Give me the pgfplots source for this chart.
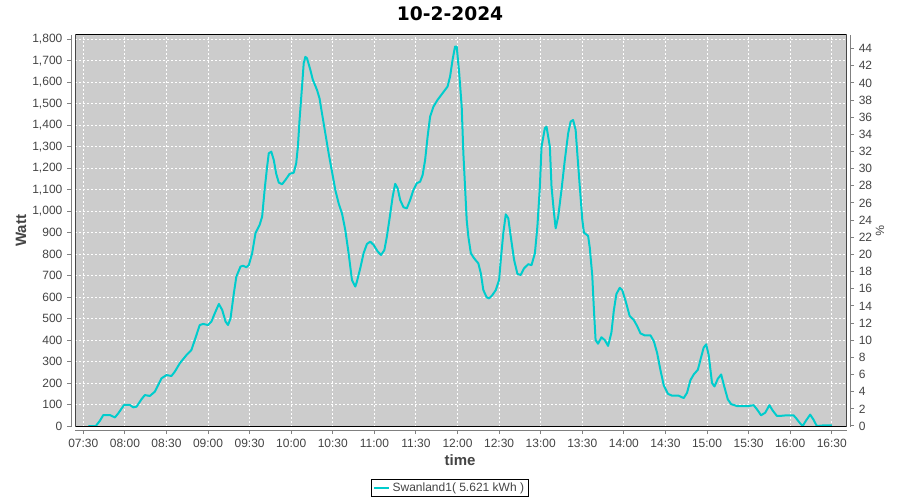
\documentclass[border=0pt]{standalone}
\usepackage{pgfplots}
\pgfplotsset{compat=1.18}
\usepackage{fontspec}
\setmainfont{Liberation Sans}
\newfontfamily\titlefont{DejaVu Sans}

\definecolor{plotbg}{RGB}{204,204,204}
\definecolor{swan}{RGB}{0,204,204}
\definecolor{axgray}{RGB}{128,128,128}
\definecolor{lblgray}{RGB}{68,68,68}

% power in W against time of day (decimal hours)
\pgfplotstableread{
h W
7.56 0
7.65 0
7.70 25
7.74 51
7.82 51
7.88 40
7.92 59
7.99 98
8.06 98
8.10 87
8.14 90
8.20 125
8.24 144
8.30 140
8.36 160
8.44 222
8.50 237
8.56 233
8.60 253
8.66 292
8.74 330
8.80 354
8.84 400
8.90 470
8.94 475
9.00 470
9.04 486
9.08 524
9.13 568
9.17 540
9.21 486
9.24 470
9.27 501
9.31 618
9.34 695
9.39 742
9.42 746
9.46 739
9.49 749
9.53 804
9.57 897
9.62 936
9.65 974
9.68 1099
9.71 1207
9.73 1269
9.76 1277
9.79 1238
9.82 1173
9.85 1133
9.89 1125
9.93 1145
9.98 1173
10.03 1179
10.06 1223
10.08 1300
10.10 1424
10.13 1580
10.15 1688
10.17 1718
10.19 1711
10.23 1657
10.26 1611
10.31 1564
10.34 1525
10.37 1455
10.41 1362
10.45 1269
10.49 1184
10.53 1099
10.57 1036
10.61 990
10.65 912
10.69 804
10.73 680
10.77 649
10.79 672
10.83 734
10.87 804
10.91 847
10.95 858
10.99 843
11.04 812
11.08 796
11.12 819
11.15 881
11.18 959
11.22 1068
11.25 1127
11.28 1106
11.31 1052
11.35 1018
11.39 1013
11.43 1052
11.47 1099
11.51 1130
11.55 1137
11.58 1168
11.61 1238
11.64 1347
11.67 1440
11.71 1486
11.76 1518
11.82 1549
11.88 1580
11.91 1626
11.94 1704
11.97 1766
11.99 1766
12.02 1642
12.05 1486
12.07 1269
12.09 1114
12.11 959
12.13 881
12.16 804
12.20 780
12.25 757
12.28 711
12.31 633
12.35 599
12.38 594
12.42 610
12.46 633
12.50 680
12.52 773
12.55 897
12.58 985
12.61 967
12.64 881
12.68 773
12.72 708
12.76 703
12.80 734
12.85 753
12.89 749
12.93 804
12.96 928
12.99 1114
13.01 1300
13.05 1386
13.07 1393
13.11 1300
13.13 1114
13.16 990
13.18 920
13.21 974
13.25 1099
13.29 1238
13.33 1362
13.36 1417
13.39 1424
13.42 1378
13.44 1269
13.47 1114
13.50 960
13.52 900
13.57 885
13.59 830
13.62 700
13.64 540
13.66 400
13.69 383
13.73 413
13.77 400
13.81 373
13.85 434
13.88 540
13.91 614
13.95 643
13.98 633
14.02 583
14.07 512
14.12 493
14.16 465
14.20 431
14.25 422
14.32 422
14.36 395
14.40 340
14.44 260
14.48 189
14.53 150
14.58 141
14.66 141
14.72 130
14.76 155
14.80 213
14.84 240
14.89 262
14.93 322
14.96 365
14.99 380
15.02 330
15.06 200
15.09 184
15.13 220
15.17 240
15.21 180
15.25 124
15.29 102
15.36 93
15.50 93
15.56 97
15.60 78
15.65 50
15.70 62
15.75 97
15.79 72
15.84 47
15.88 47
15.96 50
16.04 50
16.07 37
16.12 12
16.15 0
16.19 25
16.24 53
16.28 30
16.32 0
16.40 3
16.50 3
}\power

\pgfplotsset{
  common/.style={
    scale only axis,
    width=578.55pt, height=293.8pt,
    at={(56.5pt,55pt)}, anchor=south west,
    xmin=7.4038, xmax=16.68,
    tick align=outside,
    major tick length=3pt,
    every tick/.style={axgray, line width=0.75pt},
    axis line style={axgray, line width=0.75pt, -},
    tick label style={lblgray, font=\fontsize{9pt}{10pt}\selectfont},
    /pgf/number format/assume math mode=true,
  }
}

\begin{document}
\begin{tikzpicture}
\path[use as bounding box, fill=white] (0,0) rectangle (675pt,375pt);

% main axis: watt
\begin{axis}[
  common,
  axis x line*=bottom, axis y line*=left,
  axis x line shift=2.5pt, axis y line shift=3.2pt,
  axis background/.style={fill=plotbg},
  ymin=-3, ymax=1820,
  ytick={0,100,...,1800},
  xtick={7.5,8,...,16.5},
  xticklabels={07:30,08:00,08:30,09:00,09:30,10:00,10:30,11:00,11:30,12:00,12:30,13:00,13:30,14:00,14:30,15:00,15:30,16:00,16:30},
  yticklabel style={/pgf/number format/.cd, 1000 sep={,}},
  grid=major,
  major grid style={white, line width=0.75pt, dash pattern=on 1.5pt off 1.5pt},
  xlabel={time},
  xlabel style={at={(axis description cs:0.4987,-0.085)}, anchor=center,
    lblgray, font=\bfseries\fontsize{11.25pt}{13pt}\selectfont},
  ylabel={Watt},
  ylabel style={at={(axis description cs:-0.0704,0.5)}, anchor=center,
    lblgray, font=\bfseries\fontsize{11.25pt}{13pt}\selectfont},
  legend style={at={(axis description cs:0.4857,-0.1565)}, anchor=center,
    draw=black, line width=0.75pt, fill=white,
    inner xsep=1.5pt, inner ysep=0.5pt,
    font=\fontsize{9pt}{10pt}\selectfont, text=lblgray},
  legend image code/.code={\draw[#1] (0pt,0pt) -- (11pt,0pt);},
]
\addplot[swan, line width=1.5pt, line join=round] table[x=h, y=W] {\power};
\addlegendentry{Swanland1( 5.621 kWh )}
\draw[black, line width=0.75pt] (rel axis cs:0,0) rectangle (rel axis cs:1,1);
\end{axis}

% right axis: percent
\begin{axis}[
  common,
  axis x line=none, axis y line*=right,
  axis y line shift=2.5pt,
  ymin=-0.08, ymax=45.59,
  ytick={0,2,...,44},
  ylabel={\%},
  ylabel style={at={(axis description cs:1.0432,0.5)}, anchor=center, rotate=180,
    lblgray, font=\fontsize{9pt}{10pt}\selectfont},
]
\end{axis}

% chart title
\node[anchor=center, font=\titlefont\bfseries\fontsize{14pt}{16pt}\selectfont]
  at (337.5pt,364.5pt) {10-2-2024};
\end{tikzpicture}
\end{document}
